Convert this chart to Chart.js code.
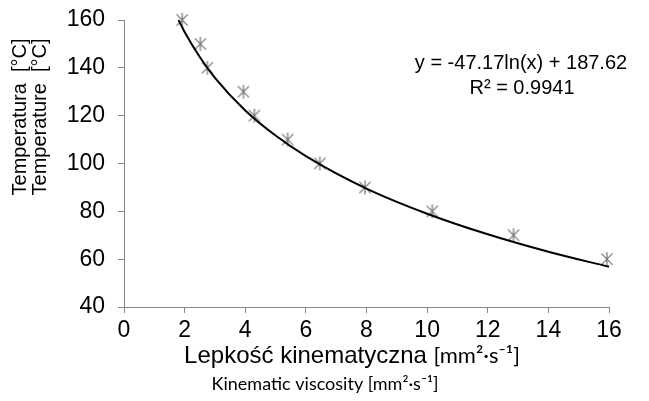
<!DOCTYPE html>
<html>
<head>
  <meta charset="utf-8">
  <title>Temperatura vs lepkość</title>
  <script src="https://cdn.jsdelivr.net/npm/chart.js"></script>
  <style>
    html, body { margin: 0; padding: 0; background: #fff; }
    #wrap { width: 649px; height: 401px; }
  </style>
</head>
<body>
  <div id="wrap"><canvas id="chart" width="649" height="401"></canvas></div>

  <script>
    // measured points (viscosity mm2/s, temperature C)
    const viscosity   = [1.92, 2.52, 2.75, 3.94, 4.30, 5.40, 6.46, 7.95, 10.17, 12.85, 15.93];
    const temperature = [160, 150, 140, 130, 120, 110, 100, 90, 80, 70, 60];

    // logarithmic trend line
    const trendX = [1.8, 2, 2.5, 3, 4, 5, 6, 8, 10, 12, 14, 16];
    const trendY = [160, 155, 144.5, 135.8, 122.2, 111.7, 103.1, 89.5, 79, 70.4, 63.1, 56.8];

    const xTicks = [0, 2, 4, 6, 8, 10, 12, 14, 16];
    const yTicks = [40, 60, 80, 100, 120, 140, 160];

    const eqLines = ['y = -47.17ln(x) + 187.62', 'R\u00B2 = 0.9941'];
    const yTitle  = ['Temperatura  [\u00B0C]', 'Temperature  [\u00B0C]'];

    const axisGrey = '#868686';
    const markGrey = '#737373';
    const arial = '"Liberation Sans", Arial, sans-serif';
    const calib = 'Lato, "Open Sans", sans-serif';

    // excel-ish star marker: an X with a vertical bar
    function starMarker(r) {
      const c = document.createElement('canvas');
      c.width = c.height = r * 2 + 2;
      const g = c.getContext('2d');
      const m = r + 1;
      g.strokeStyle = markGrey;
      g.lineWidth = 1.2;
      g.beginPath();
      g.moveTo(m - r * 0.8, m - r * 0.8); g.lineTo(m + r * 0.8, m + r * 0.8);
      g.moveTo(m + r * 0.8, m - r * 0.8); g.lineTo(m - r * 0.8, m + r * 0.8);
      g.moveTo(m, m - r); g.lineTo(m, m + r);
      g.stroke();
      return c;
    }

    const textPlugin = {
      id: 'texts',
      afterDraw(chart) {
        const ctx = chart.ctx;
        ctx.save();
        ctx.fillStyle = '#000';
        ctx.textAlign = 'center';
        ctx.textBaseline = 'middle';

        // regression label
        ctx.font = '20px ' + arial;
        ctx.fillText(eqLines[0], 521, 63);
        ctx.fillText(eqLines[1], 522, 88);

        // x axis titles
        ctx.textAlign = 'left';
        const t1 = 'Lepko\u015B\u0107 kinematyczna ';
        const t1b = '[mm\u00B2\u00B7s\u207B\u00B9]';
        ctx.font = '24px ' + arial;
        const w1 = ctx.measureText(t1).width;
        ctx.font = '22px ' + calib;
        const w1b = ctx.measureText(t1b).width;
        const x0 = 352 - (w1 + w1b) / 2;
        ctx.font = '24px ' + arial;
        ctx.fillText(t1, x0, 356);
        ctx.font = '22px ' + calib;
        ctx.fillText(t1b, x0 + w1, 356);

        ctx.textAlign = 'center';
        ctx.font = '18px ' + calib;
        ctx.fillText('Kinematic viscosity [mm\u00B2\u00B7s\u207B\u00B9]', 325, 384);

        // y axis titles
        ctx.font = '20px ' + arial;
        ctx.translate(20, 117);
        ctx.rotate(-Math.PI / 2);
        ctx.fillText(yTitle[0], 0, 0);
        ctx.fillText(yTitle[1], 0, 20);
        ctx.restore();
      }
    };

    window.onload = () => {
      const ctx = document.getElementById('chart').getContext('2d');
      new Chart(ctx, {
        type: 'scatter',
        data: {
          datasets: [
            {
              label: 'trend',
              type: 'line',
              data: trendX.map((x, i) => ({ x: x, y: trendY[i] })),
              borderColor: '#000',
              borderWidth: 2,
              pointRadius: 0,
              cubicInterpolationMode: 'monotone',
              clip: false,
              fill: false
            },
            {
              label: 'data',
              data: viscosity.map((x, i) => ({ x: x, y: temperature[i] })),
              pointStyle: starMarker(7),
              pointRadius: 7,
              clip: false
            }
          ]
        },
        options: {
          responsive: false,
          animation: false,
          layout: { padding: { left: 0, right: 40, top: 20, bottom: 0 } },
          plugins: { legend: { display: false }, tooltip: { enabled: false } },
          scales: {
            x: {
              type: 'linear',
              min: 0, max: 16,
              afterBuildTicks: s => { s.ticks = xTicks.map(v => ({ value: v })); },
              afterFit: s => { s.height = 94; },
              grid: { drawOnChartArea: false, color: axisGrey, tickLength: 6 },
              border: { color: axisGrey, width: 1 },
              ticks: { color: '#000', padding: 4, font: { family: arial, size: 23 } }
            },
            y: {
              min: 40, max: 160,
              afterBuildTicks: s => { s.ticks = yTicks.map(v => ({ value: v })); },
              afterFit: s => { s.width = 124; },
              grid: { drawOnChartArea: false, color: axisGrey, tickLength: 6 },
              border: { color: axisGrey, width: 1 },
              ticks: { color: '#000', padding: 13, font: { family: arial, size: 23, lineHeight: 0.5 } }
            }
          }
        },
        plugins: [textPlugin]
      });
    };
  </script>
</body>
</html>
